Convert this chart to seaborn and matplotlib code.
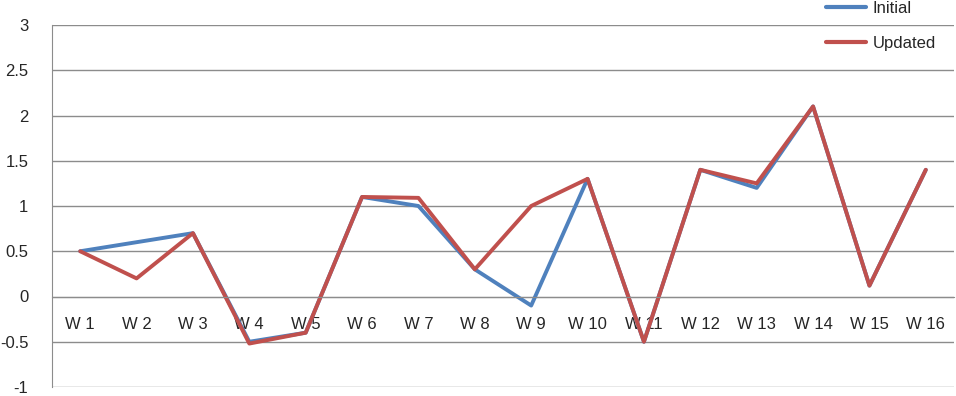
import matplotlib
matplotlib.use("Agg")
import matplotlib.pyplot as plt
import seaborn as sns
import pandas as pd
import numpy as np

weeks = ["W 1", "W 2", "W 3", "W 4", "W 5", "W 6", "W 7", "W 8",
         "W 9", "W 10", "W 11", "W 12", "W 13", "W 14", "W 15", "W 16"]
initial = [0.5, 0.6, 0.7, -0.5, -0.4, 1.1, 1.0, 0.3,
           -0.1, 1.3, -0.5, 1.4, 1.2, 2.1, 0.12, 1.4]
updated = [0.5, 0.2, 0.7, -0.52, -0.4, 1.1, 1.09, 0.3,
           1.0, 1.3, -0.5, 1.4, 1.25, 2.1, 0.12, 1.4]

sns.set_style("white")
plt.rcParams['font.family'] = ['Liberation Sans', 'DejaVu Sans']

df = pd.DataFrame({"x": np.arange(len(weeks)), "Initial": initial, "Updated": updated})
long = df.melt(id_vars="x", var_name="series", value_name="value")

fig = plt.figure(figsize=(9.56, 3.96), dpi=100)
ax = fig.add_axes([52/956, 1 - 387/396, (954 - 52)/956, (387 - 25)/396])

sns.lineplot(ax=ax, data=long, x="x", y="value", hue="series",
             palette={"Initial": "#4F81BD", "Updated": "#C0504D"},
             linewidth=2.8, legend=False)

ax.set_xlim(-0.5, len(weeks) - 0.5)
ax.set_ylim(-1, 3)
ax.set_yticks(np.arange(-1, 3.01, 0.5))
ax.set_yticklabels(["-1", "-0.5", "0", "0.5", "1", "1.5", "2", "2.5", "3"], fontsize=12)
ax.yaxis.grid(True, color="#8c8c8c", linewidth=1)
ax.set_axisbelow(True)

ax.spines['bottom'].set_position(('data', 0))
for s in ['top', 'right']:
    ax.spines[s].set_visible(False)
ax.spines['left'].set_color("#8c8c8c")
ax.spines['bottom'].set_color("#8c8c8c")

ax.set_xticks(np.arange(len(weeks)))
ax.set_xticklabels(weeks, fontsize=12)
ax.set_xticks(np.arange(len(weeks)) + 0.5, minor=True)
ax.tick_params(axis='x', which='major', length=0, pad=15)
ax.tick_params(axis='x', which='minor', length=5, color="#8c8c8c", direction='out')
ax.tick_params(axis='y', length=3, color="#8c8c8c", pad=14)
ax.set_xlabel("")
ax.set_ylabel("")

handles = [plt.Line2D([], [], color="#4F81BD", linewidth=3),
           plt.Line2D([], [], color="#C0504D", linewidth=3)]
fig.legend(handles, ["Initial", "Updated"], loc="upper left",
           bbox_to_anchor=(826/956, 0.998), frameon=False, fontsize=12,
           handlelength=2.4, handletextpad=0.4, labelspacing=1.2,
           borderpad=0, borderaxespad=0)

fig.savefig("out.png", dpi=100)
